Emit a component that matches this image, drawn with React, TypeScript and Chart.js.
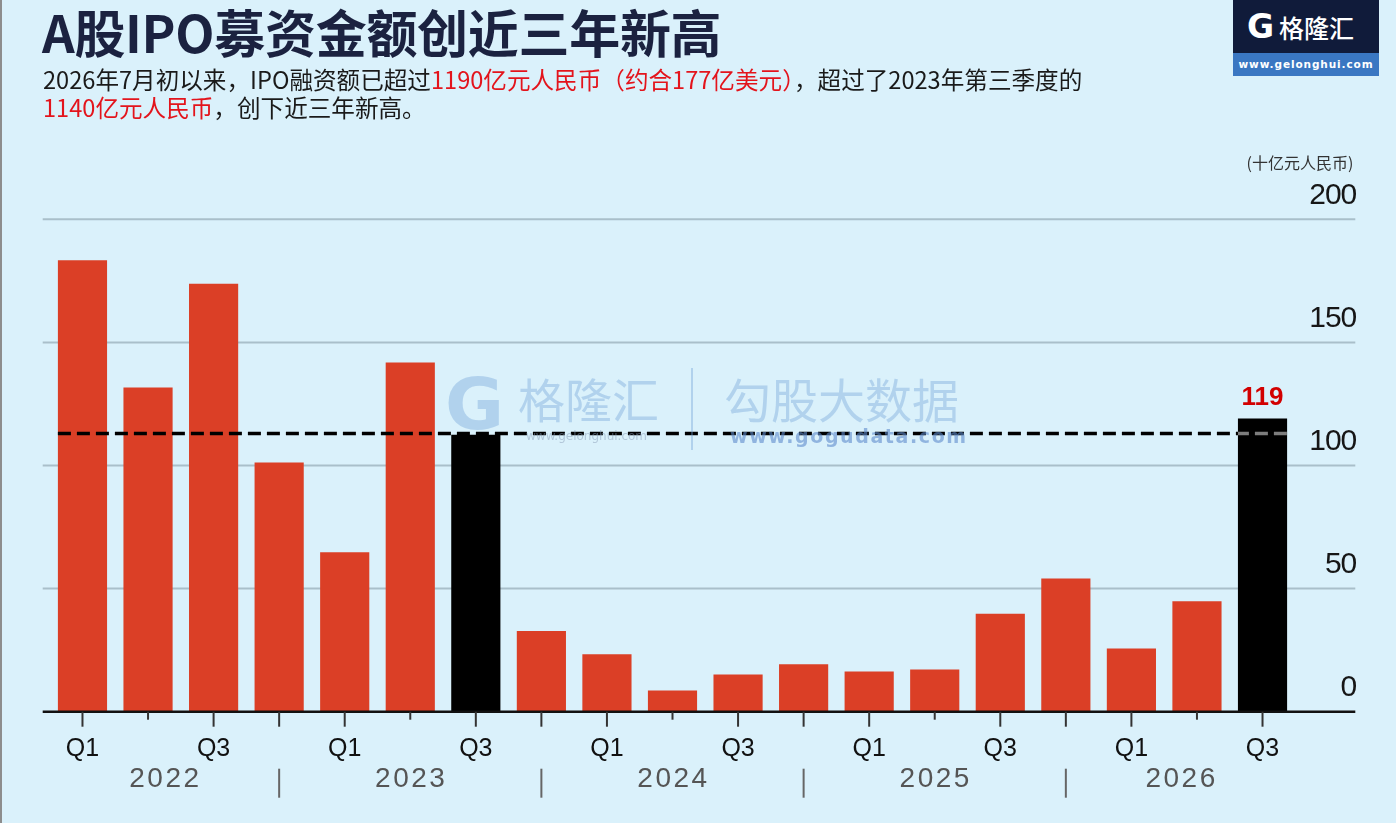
import React, { useEffect, useRef } from "react";
import { Chart, registerables } from "chart.js";

Chart.register(...registerables);

// ---------- data ----------
const QUARTER_LABELS = ["Q1", "", "Q3", "", "Q1", "", "Q3", "", "Q1", "", "Q3", "", "Q1", "", "Q3", "", "Q1", "", "Q3"];
const IPO_VALUES = [183.4, 131.7, 173.8, 101.2, 64.8, 141.8, 112.5, 32.8, 23.3, 8.6, 15.1, 19.3, 16.3, 17.1, 39.8, 54.1, 25.7, 44.9, 119.1];
const HIGHLIGHT_INDEX = [6, 18];
const Y_TICKS = [0, 50, 100, 150, 200];
const YEAR_LABELS = ["2022", "2023", "2024", "2025", "2026"];
const YEAR_BREAK_INDEX = [3, 7, 11, 15];
const REFERENCE_LEVEL = 113;
const CALLOUT_INDEX = 18;
const CALLOUT_TEXT = "119";
const UNIT_TEXT = "(十亿元人民币)";

// ---------- styles ----------
const BG = "#daf1fb";
const RED = "#db3f26";
const BLACK = "#000000";
const GRID_COLOR = "#a9bfca";

const overlayPlugin = {
  id: "overlay",
  beforeDatasetsDraw(chart: any) {
    const { ctx, chartArea, scales } = chart;
    const y = scales.y;
    const left = chartArea.left - 7;
    const right = chartArea.right + 60;
    ctx.save();
    ctx.strokeStyle = GRID_COLOR;
    ctx.lineWidth = 2;
    Y_TICKS.forEach((v) => {
      if (v === 0) return;
      const py = y.getPixelForValue(v);
      ctx.beginPath();
      ctx.moveTo(left, py);
      ctx.lineTo(right, py);
      ctx.stroke();
    });
    ctx.restore();
  },
  afterDatasetsDraw(chart: any) {
    const { ctx, chartArea, scales } = chart;
    const x = scales.x;
    const y = scales.y;
    const left = chartArea.left - 7;
    const right = chartArea.right + 60;
    const meta = chart.getDatasetMeta(0);
    const y0 = y.getPixelForValue(0);

    ctx.save();
    // y labels
    ctx.fillStyle = "#161616";
    ctx.font = "30px 'Liberation Sans', Arial, sans-serif";
    (ctx as any).letterSpacing = "-1px";
    ctx.textAlign = "right";
    ctx.textBaseline = "middle";
    Y_TICKS.forEach((v) => {
      ctx.fillText(String(v), right + 1, y.getPixelForValue(v) - 23.5);
    });
    (ctx as any).letterSpacing = "0px";

    // unit
    ctx.fillStyle = "#333";
    ctx.font = "16px 'Noto Sans CJK SC', sans-serif";
    ctx.textAlign = "right";
    ctx.fillText(UNIT_TEXT, right - 2, y.getPixelForValue(200) - 56);

    // axis line
    ctx.strokeStyle = "#111";
    ctx.lineWidth = 2.5;
    ctx.beginPath();
    ctx.moveTo(left, y0);
    ctx.lineTo(right, y0);
    ctx.stroke();

    // tick marks
    ctx.strokeStyle = "#333";
    ctx.lineWidth = 2;
    QUARTER_LABELS.forEach((lab, i) => {
      const px = x.getPixelForValue(i);
      const long = lab !== "" || YEAR_BREAK_INDEX.includes(i);
      ctx.beginPath();
      ctx.moveTo(px, y0);
      ctx.lineTo(px, y0 + (long ? 15 : 8));
      ctx.stroke();
    });

    // dashed reference line
    const first = meta.data[0];
    const last = meta.data[meta.data.length - 1];
    const x1 = first.x - first.width / 2;
    const x2 = last.x + last.width / 2;
    const ly = y.getPixelForValue(REFERENCE_LEVEL);
    ctx.setLineDash([13, 6]);
    ctx.lineWidth = 3.5;
    ctx.strokeStyle = "#000";
    ctx.beginPath();
    ctx.moveTo(x1, ly);
    ctx.lineTo(x2, ly);
    ctx.stroke();
    // lighter dashes where the line crosses a black bar
    HIGHLIGHT_INDEX.forEach((i) => {
      const el = meta.data[i];
      if (el.y > ly - 3) return;
      ctx.save();
      ctx.beginPath();
      ctx.rect(el.x - el.width / 2, el.y, el.width, el.base - el.y);
      ctx.clip();
      ctx.strokeStyle = "#7d7d7d";
      ctx.beginPath();
      ctx.moveTo(x1, ly);
      ctx.lineTo(x2, ly);
      ctx.stroke();
      ctx.restore();
    });
    ctx.setLineDash([]);

    // callout
    const c = meta.data[CALLOUT_INDEX];
    ctx.fillStyle = "#d20000";
    ctx.font = "bold 26px 'Liberation Sans', Arial, sans-serif";
    ctx.textAlign = "center";
    ctx.textBaseline = "middle";
    ctx.fillText(CALLOUT_TEXT, c.x, c.y - 21);

    // years row
    const bounds = [chartArea.left, ...YEAR_BREAK_INDEX.map((i) => x.getPixelForValue(i)), chartArea.right];
    ctx.fillStyle = "#555";
    ctx.font = "28px 'Liberation Sans', Arial, sans-serif";
    (ctx as any).letterSpacing = "2.5px";
    YEAR_LABELS.forEach((yr, k) => {
      ctx.fillText(yr, (bounds[k] + bounds[k + 1]) / 2 + 1, y0 + 68);
    });
    (ctx as any).letterSpacing = "0px";
    ctx.strokeStyle = "#666";
    ctx.lineWidth = 2;
    YEAR_BREAK_INDEX.forEach((i) => {
      const px = x.getPixelForValue(i);
      ctx.beginPath();
      ctx.moveTo(px, y0 + 57);
      ctx.lineTo(px, y0 + 86);
      ctx.stroke();
    });
    ctx.restore();
  },
};

function BarChart() {
  const ref = useRef<HTMLCanvasElement | null>(null);
  useEffect(() => {
    if (!ref.current) return;
    const colors = IPO_VALUES.map((_, i) => (HIGHLIGHT_INDEX.includes(i) ? BLACK : RED));
    const chart = new Chart(ref.current, {
      type: "bar",
      data: {
        labels: QUARTER_LABELS,
        datasets: [
          {
            data: IPO_VALUES,
            backgroundColor: colors,
            borderWidth: 0,
            barPercentage: 0.75,
            categoryPercentage: 1.0,
          },
        ],
      },
      options: {
        animation: false,
        responsive: false,
        devicePixelRatio: 1,
        layout: { padding: { left: 49.7, right: 100.7, top: 219.3, bottom: 0 } },
        plugins: { legend: { display: false }, tooltip: { enabled: false } },
        scales: {
          x: {
            offset: true,
            grid: { display: false, drawTicks: false },
            border: { display: false },
            ticks: {
              autoSkip: false,
              maxRotation: 0,
              padding: 22,
              color: "#111",
              font: { family: "'Liberation Sans', Arial, sans-serif", size: 25 },
            },
            afterFit: (s: any) => {
              s.height = 111.3;
            },
          },
          y: { display: false, min: 0, max: 200 },
        },
      },
      plugins: [overlayPlugin],
    });
    return () => chart.destroy();
  }, []);
  return (
    <canvas
      ref={ref}
      width={1396}
      height={823}
      style={{ position: "absolute", left: 0, top: 0, width: 1396, height: 823, display: "block" }}
    />
  );
}

export default function App() {
  const cjk = "'Noto Sans CJK SC', 'Noto Sans', sans-serif";
  const wm = "rgba(110,160,215,0.38)";
  return (
    <div
      style={{
        position: "absolute",
        left: 0,
        top: 0,
        width: 1396,
        height: 823,
        background: BG,
        overflow: "hidden",
        fontFamily: cjk,
      }}
    >
      <div style={{ position: "absolute", left: 0, top: 0, width: 2, height: 823, background: "#8d8d8d" }} />
      <BarChart />
      {/* title */}
      <div
        style={{
          position: "absolute",
          left: 42,
          top: 3,
          fontSize: 51,
          lineHeight: "56px",
          fontWeight: 700,
          color: "#1b2240",
          whiteSpace: "nowrap",
          letterSpacing: "-0.3px",
        }}
      >
        A股IPO募资金额创近三年新高
      </div>
      {/* subtitle */}
      <div
        style={{
          position: "absolute",
          left: 43,
          top: 65,
          fontSize: 23.6,
          lineHeight: "28px",
          color: "#1a1a1a",
          whiteSpace: "nowrap",
        }}
      >
        <div>
          2026年7月初以来，IPO融资额已超过<span style={{ color: "#e3141c" }}>1190亿元人民币（约合177亿美元）</span>，超过了2023年第三季度的
        </div>
        <div>
          <span style={{ color: "#e3141c" }}>1140亿元人民币</span>，创下近三年新高。
        </div>
      </div>
      {/* logo */}
      <div style={{ position: "absolute", left: 1233, top: 0, width: 146, height: 76 }}>
        <div
          style={{
            height: 53,
            background: "#101b3a",
            display: "flex",
            alignItems: "center",
            paddingLeft: 14,
            color: "#fff",
          }}
        >
          <span
            style={{
              fontFamily: "'DejaVu Sans', sans-serif",
              fontWeight: 900,
              fontSize: 33,
              lineHeight: "30px",
              marginRight: 5,
            }}
          >
            G
          </span>
          <span style={{ fontSize: 25, lineHeight: "30px", fontWeight: 500 }}>格隆汇</span>
        </div>
        <div
          style={{
            height: 23,
            background: "#3a77c2",
            color: "#fff",
            fontFamily: "'DejaVu Sans', sans-serif",
            fontWeight: 700,
            fontSize: 10.5,
            lineHeight: "23px",
            letterSpacing: "0.9px",
            textAlign: "center",
            whiteSpace: "nowrap",
          }}
        >
          www.gelonghui.com
        </div>
      </div>
      {/* watermark */}
      <div style={{ position: "absolute", left: 0, top: 0, pointerEvents: "none" }}>
        <div
          style={{
            position: "absolute",
            left: 445,
            top: 376,
            width: 64,
            height: 56,
            color: wm,
            fontFamily: "'DejaVu Sans', sans-serif",
            fontWeight: 900,
            fontSize: 72,
            lineHeight: "56px",
          }}
        >
          G
        </div>
        <div
          style={{ position: "absolute", left: 518, top: 370, fontSize: 47, lineHeight: "56px", color: wm, whiteSpace: "nowrap" }}
        >
          格隆汇
        </div>
        <div
          style={{
            position: "absolute",
            left: 526,
            top: 428,
            fontSize: 12,
            lineHeight: "16px",
            color: "rgba(140,160,185,0.5)",
            whiteSpace: "nowrap",
            fontFamily: "'DejaVu Sans', sans-serif",
          }}
        >
          www.gelonghui.com
        </div>
        <div style={{ position: "absolute", left: 691, top: 368, width: 2, height: 82, background: wm }} />
        <div
          style={{ position: "absolute", left: 724, top: 370, fontSize: 47, lineHeight: "56px", color: wm, whiteSpace: "nowrap" }}
        >
          勾股大数据
        </div>
        <div
          style={{
            position: "absolute",
            left: 730,
            top: 424,
            fontSize: 19,
            lineHeight: "24px",
            fontWeight: 700,
            letterSpacing: "1.6px",
            color: "rgba(95,140,205,0.6)",
            whiteSpace: "nowrap",
            fontFamily: "'DejaVu Sans', sans-serif",
          }}
        >
          www.gogudata.com
        </div>
      </div>
    </div>
  );
}
